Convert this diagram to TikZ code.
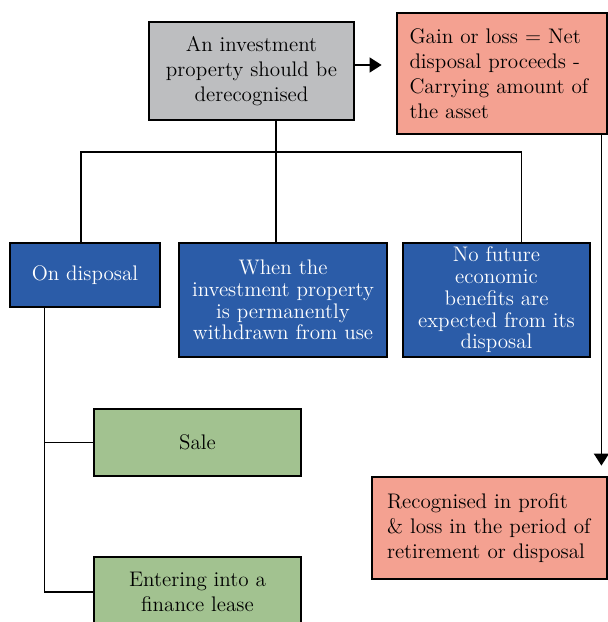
\documentclass[tikz,border=0pt]{standalone}
\usetikzlibrary{arrows.meta,positioning}
\definecolor{dgGray}{HTML}{BDBEC0}
\definecolor{dgSalmon}{HTML}{F4A191}
\definecolor{dgBlue}{HTML}{2B5CA8}
\definecolor{dgGreen}{HTML}{A2C290}

\begin{document}
\begin{tikzpicture}[
      font=\fontsize{12}{14.2}\selectfont,
      box/.style={draw=black,line width=1.6pt,align=center,inner sep=3pt},
      grey/.style={box,fill=dgGray},
      res/.style={box,fill=dgSalmon,align=left},
      cond/.style={box,fill=dgBlue,text=white,inner ysep=1pt,font=\fontsize{12}{12.4}\selectfont},
      way/.style={box,fill=dgGreen},
      l/.style={draw=black,line width=0.8pt},
      a/.style={l,-{Triangle[length=2.4mm,width=3mm]}}
    ]
    \useasboundingbox (0,0) rectangle (12.16,-12.44);

    \node[grey,minimum width=41mm,minimum height=19.6mm] (top) at (5.03,-1.42)
      {An investment\\property should be\\derecognised};
    \node[res,minimum width=42mm,minimum height=24.2mm,text width=37mm] (gain) at (10.04,-1.47)
      {Gain or loss = Net\\disposal proceeds -\\Carrying amount of\\the asset};

    \node[cond,minimum width=30mm,minimum height=12.8mm] (disposal) at (1.7,-5.5) {On disposal};
    \node[cond,minimum width=41.6mm,minimum height=22.8mm] (withdrawn) at (5.66,-6.0)
      {When the\\investment property\\is permanently\\withdrawn from use};
    \node[cond,minimum width=37.4mm,minimum height=22.8mm] (nofuture) at (9.93,-6.0)
      {No future\\economic\\benefits are\\expected from its\\disposal};

    \node[way,minimum width=41.4mm,minimum height=13.4mm] (sale) at (3.95,-8.85) {Sale};
    \node[way,minimum width=41.4mm,minimum height=14mm] (lease) at (3.95,-11.84)
      {Entering into a\\finance lease};

    \node[res,minimum width=47mm,minimum height=20.4mm,text width=41mm] (profit) at (9.79,-10.56)
      {Recognised in profit\\\& loss in the period of\\retirement or disposal};

    % tree from the top box down to the three cases
    \coordinate (bus) at (0,-3.04);
    \draw[l] ([xshift=-0.14cm]top.south -| withdrawn.north) -- ([xshift=-0.14cm]withdrawn.north);
    \draw[l] ([xshift=-0.08cm]disposal.north) |- (bus -| top.south) -| ([xshift=0.5cm]nofuture.north);
    \draw[l] ([xshift=0.72cm]disposal.south west) coordinate (trunk) |- (lease.west);
    \draw[l] (sale.west) -- (sale.west -| trunk);

    \draw[a,shorten >=2.8mm] ([yshift=0.12cm]top.east) -- ([yshift=0.12cm]top.east -| gain.west);
    \draw[a,shorten >=2mm] ([xshift=-0.14cm]gain.south east) -- ([xshift=-0.14cm]profit.north east);
  \end{tikzpicture}
\end{document}
